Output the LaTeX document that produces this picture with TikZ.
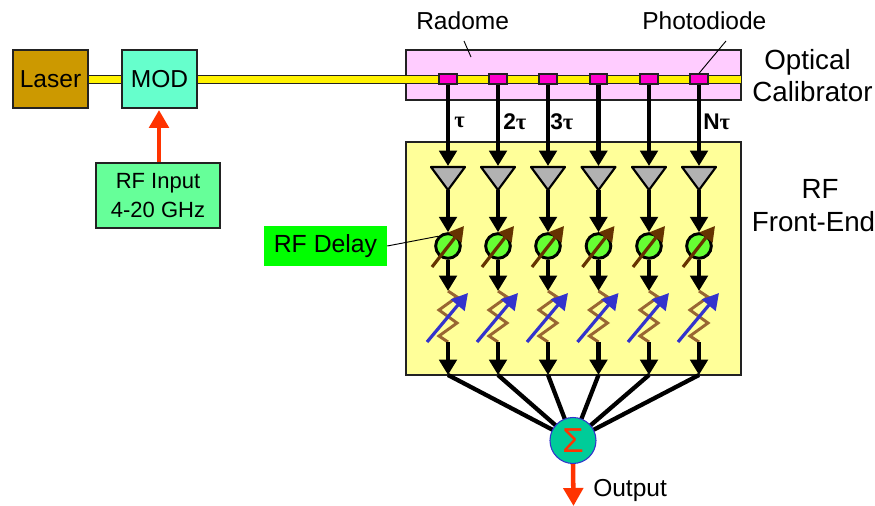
\documentclass[tikz,border=0pt]{standalone}
\usepackage{fontspec}
\setmainfont{Liberation Sans}
\newfontfamily\symfont{Liberation Serif}
\usetikzlibrary{arrows.meta,shapes.geometric,shadows}
\definecolor{laserc}{HTML}{CC9900}
\definecolor{modc}{HTML}{66FFCC}
\definecolor{rfinc}{HTML}{66FF99}
\definecolor{pinkc}{HTML}{FFCCFF}
\definecolor{frontc}{HTML}{FFFF99}
\definecolor{pdc}{HTML}{FF00CC}
\definecolor{ampc}{HTML}{B2B2B2}
\definecolor{phasec}{HTML}{66FF33}
\definecolor{brownc}{HTML}{663300}
\definecolor{zigc}{HTML}{996633}
\definecolor{bluec}{HTML}{3333CC}
\definecolor{sumc}{HTML}{00CC99}
\definecolor{redc}{HTML}{FF3300}
\definecolor{edgec}{HTML}{222222}
\tikzset{
  x=0.75pt,y=-0.75pt,
  lbl/.style={font=\fontsize{18.4pt}{22pt}\selectfont,inner sep=0pt,align=center,text=black},
  biglbl/.style={font=\fontsize{20.8pt}{24pt}\selectfont,inner sep=0pt,text=black},
  boxn/.style={draw=edgec,line width=0.9pt,inner sep=0pt,align=center,font=\fontsize{18.4pt}{24pt}\selectfont,
    drop shadow={shadow xshift=1pt,shadow yshift=-1pt,fill=gray,opacity=.6}},
  fiber/.style={draw=edgec,fill=yellow,line width=0.6pt},
  sig/.style={line width=3.4pt,-{Triangle[length=11.5pt,width=13pt]}},
  plainsig/.style={line width=3.2pt},
  outsig/.style={draw=redc,line width=3.4pt,-{Triangle[length=13.5pt,width=14.5pt]}},
  taul/.style={font=\fontsize{17pt}{19pt}\selectfont\bfseries,inner sep=0pt},
  leader/.style={draw=black,line width=0.7pt},
  pdn/.style={draw=edgec,fill=pdc,line width=1.5pt,minimum width=13pt,minimum height=7pt,inner sep=0pt},
  amp/.style={draw=black,fill=ampc,line width=1.6pt,line join=round},
  phase/.style={circle,draw=black,fill=phasec,line width=2.2pt,minimum size=18.5pt,inner sep=0pt},
  tunea/.style={draw=brownc,line width=2.4pt,-{Triangle[length=11pt,width=12pt]}},
  tuneb/.style={draw=bluec,line width=2.4pt,-{Triangle[length=12pt,width=13pt]}},
  zig/.style={draw=zigc,line width=2.2pt,line join=miter},
}
\begin{document}
\begin{tikzpicture}
\useasboundingbox (0,0) rectangle (875,506);
% boxes
\node[boxn,fill=pinkc,minimum width=251.25pt,minimum height=37.5pt] (cal) at (573.5,75) {};
\node[boxn,fill=frontc,minimum width=251.25pt,minimum height=174.75pt] (front) at (573.5,258.5) {};
% fibre
\coordinate (fibA) at (88,79);
\coordinate (fibB) at (122,79);
\coordinate (fibC) at (197,79);
\coordinate (fibD) at (741,79);
\draw[fiber] (88,75) rectangle (122,83);
\draw[fiber] (197,75) rectangle (741,83);
\node[boxn,fill=laserc,minimum width=56.25pt,minimum height=43.5pt] (laser) at (50.5,79) {\raisebox{-0.8pt}{Laser}};
\node[boxn,fill=modc,minimum width=56.25pt,minimum height=43.5pt] (mod) at (159.5,79) {\raisebox{-0.8pt}{MOD}};
\node[boxn,fill=rfinc,minimum width=93pt,minimum height=48.75pt,font=\fontsize{16.5pt}{22pt}\selectfont] (rfin) at (158,195.5) {\raisebox{-1.5pt}{RF Input}\\\raisebox{-1.5pt}{4-20 GHz}};
\coordinate (modin) at (159,110);
\draw[outsig] (rfin.north -| modin) -- (modin);
\node[fill=green,minimum width=92.25pt,minimum height=30pt,inner sep=0pt,font=\fontsize{18.6pt}{20pt}\selectfont] (delay) at (325.5,246) {RF Delay};
% columns
\foreach \i/\cx in {1/448,2/498,3/548,4/598.5,5/649,6/699}{
  \node[pdn] (pd\i) at (\cx,79) {};
  \coordinate (ampT\i) at (\cx,166);
  \coordinate (ampB\i) at (\cx,190);
  \node[phase] (ph\i) at (\cx,246) {};
  \coordinate (zigT\i) at (\cx,291);
  \coordinate (zigB\i) at (\cx,342);
  \coordinate (out\i) at (\cx,375);
  \draw[sig] (pd\i.south) -- (ampT\i);
  \draw[amp] (\cx-17,167) -- (\cx+17,167) -- (ampB\i) -- cycle;
  \draw[sig] (ampB\i) -- (ph\i.north);
  \draw[sig] (ph\i.south) -- (zigT\i);
  \draw[zig] (zigT\i) -- (\cx+9,297) -- (\cx-9,310) -- (\cx+9,323) -- (\cx-9,336) -- (zigB\i);
  \draw[sig] (zigB\i) -- (out\i);
  \draw[tunea] (\cx-16,267) -- (\cx+16,226);
  \draw[tuneb] (\cx-21,342) -- (\cx+20,293);
}
% summer
\foreach \i in {1,2,3,4,5,6}{\draw[plainsig] (out\i) -- (573,440.5);}
\node[circle,draw=bluec,fill=sumc,line width=0.8pt,minimum size=34.5pt,inner sep=0pt,text=redc,font=\fontsize{26pt}{28pt}\selectfont] (sum) at (573,440.5) {Σ};
\coordinate (outend) at (573.5,506);
\draw[outsig] (sum.south) -- (outend);
% labels
\node[lbl,anchor=west] (radl) at (416,21) {Radome};
\node[lbl,anchor=west] (pdl) at (642,21) {Photodiode};
\node[biglbl] (optl) at (807.5,62) {Optical};
\node[biglbl] (call) at (812.5,92) {Calibrator};
\node[biglbl] (rfl) at (820,189) {RF};
\node[biglbl] (fel) at (813.5,222) {Front-End};
\node[lbl,anchor=west] (outl) at (593,490) {Output};
\coordinate (radp) at (471,57);
\coordinate (radq) at (464,41);
\draw[leader] (radq) -- (radp);
\coordinate (pdq) at (726,41);
\draw[leader] (pdq) -- (pd6.north);
\draw[leader] (delay.east) -- (ph1.north west);
\node[taul,anchor=west] (t1) at (454,122) {\symfont τ};
\node[taul,anchor=west] (t2) at (503,122) {2{\symfont τ}};
\node[taul,anchor=west] (t3) at (550,122) {3{\symfont τ}};
\node[taul,anchor=west] (t6) at (703,122) {N{\symfont τ}};
\end{tikzpicture}
\end{document}
